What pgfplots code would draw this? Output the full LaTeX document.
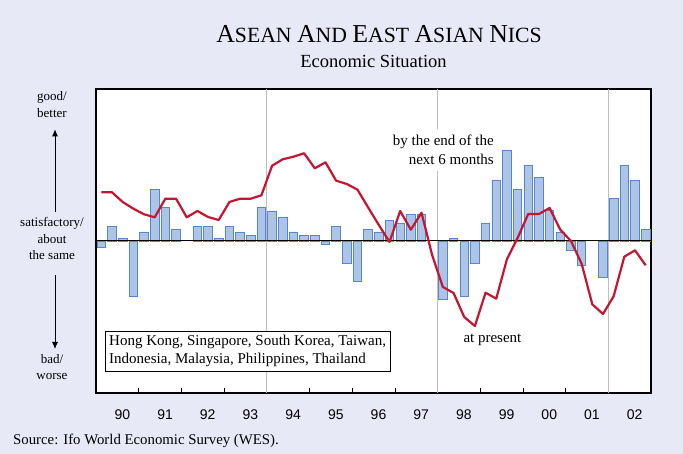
\documentclass[border=0pt]{standalone}
\usepackage{pgfplots}
\pgfplotsset{compat=1.18}
\usetikzlibrary{arrows.meta}
\usepackage{fontspec}
\setmainfont{Liberation Serif}
\newfontfamily\sansfont{Liberation Sans}
\definecolor{bgc}{RGB}{231,233,246}
\definecolor{barfill}{RGB}{174,196,230}
\definecolor{baredge}{RGB}{84,135,205}
\definecolor{redl}{RGB}{196,22,48}
\definecolor{gridg}{RGB}{190,190,190}
\newcommand{\fsc}[2]{{\fontsize{25.8}{26}\selectfont #1}#2}
\begin{document}
\begin{tikzpicture}
\fill[bgc] (-96pt,-61pt) rectangle (587pt,393pt);
\begin{axis}[
  at={(0pt,0pt)}, anchor=south west,
  scale only axis, width=555pt, height=304pt,
  xmin=0, xmax=52, ymin=-152, ymax=152,
  axis background/.style={fill=white},
  axis line style={line width=1.2pt},
  ytick=\empty,
  xtick={2,6,...,50},
  xticklabels={90,91,92,93,94,95,96,97,98,99,00,01,02},
  major tick length=0pt,
  minor xtick={4,8,...,48},
  minor tick length=4.5pt,
  tick align=inside, xtick pos=bottom,
  minor tick style={line width=0.6pt, black},
  xticklabel style={font=\sansfont\fontsize{14}{15}\selectfont, anchor=base, yshift=-26.7pt, xshift=5pt, inner sep=0pt},
  clip=false,
]
\draw[gridg, line width=0.8pt] (axis cs:16,-152) -- (axis cs:16,152);
\draw[gridg, line width=0.8pt] (axis cs:32,-152) -- (axis cs:32,152);
\draw[gridg, line width=0.8pt] (axis cs:48,-152) -- (axis cs:48,152);
\addplot[ybar, bar width=0.8, bar shift=0pt, fill=barfill, draw=baredge, line width=0.8pt] coordinates {
(0.5,-6.7) (1.5,14.7) (2.5,2.7) (3.5,-55.3) (4.5,9) (5.5,51.3) (6.5,33.3) (7.5,11.7)
(9.5,14.7) (10.5,14.7) (11.5,2.7) (12.5,14.7) (13.5,9) (14.5,5.7) (15.5,33.3)
(16.5,30) (17.5,24) (18.5,9) (19.5,5.7) (20.5,5.7) (21.5,-3.7) (22.5,14.7) (23.5,-22)
(24.5,-40.3) (25.5,11.7) (26.5,9) (27.5,20.7) (28.5,18) (29.5,27) (30.5,27)
(32.5,-58) (33.5,2.7) (34.5,-55.3) (35.5,-22) (36.5,18) (37.5,60.5) (38.5,90.7) (39.5,51.3)
(40.5,75.5) (41.5,63.3) (42.5,30.7) (43.5,9) (44.5,-9.3) (45.5,-24.7) (47.5,-36.7)
(48.5,42.3) (49.5,75.3) (50.5,60.3) (51.5,11.7)
};
\draw[black, line width=1pt] (axis cs:0,0) -- (axis cs:52,0);
\addplot[redl, line width=2.2pt, mark=none, line join=round] coordinates {
(0.5,48.7) (1.5,48.7) (2.5,39) (3.5,32.3) (4.5,26.7) (5.5,23.7) (6.5,42.3) (7.5,42.3)
(8.5,23.7) (9.5,30) (10.5,24) (11.5,21) (12.5,39) (13.5,42.3) (14.5,42.3) (15.5,45.7)
(16.5,75.3) (17.5,81.7) (18.5,84.3) (19.5,87.7) (20.5,72.7) (21.5,78.7) (22.5,60.3) (23.5,57)
(24.5,51.3) (25.5,33.5) (26.5,16) (27.5,-1) (28.5,30) (29.5,11.3) (30.5,28.3) (31.5,-14.3)
(32.5,-46) (33.5,-52) (34.5,-76) (35.5,-85) (36.5,-51.7) (37.5,-57.7) (38.5,-18.3) (39.5,3)
(40.5,27) (41.5,27) (42.5,33) (43.5,11.3) (44.5,0) (45.5,-22.7) (46.5,-63.3) (47.5,-73)
(48.5,-55.3) (49.5,-15.7) (50.5,-9.3) (51.5,-24.3)
};
\end{axis}
% title
\node[anchor=base, inner sep=0pt, font=\fontsize{21.7}{24}\selectfont] at (283pt,350.7pt) {\fsc{A}{SEAN} \fsc{A}{ND} \fsc{E}{AST} \fsc{A}{SIAN} \fsc{N}{ICS}};
\node[anchor=base, inner sep=0pt] at (277.5pt,325.3pt) {\fontsize{18.5}{20}\selectfont Economic Situation};
% left labels
\begin{scope}[every node/.style={anchor=base, inner sep=0pt, font=\fontsize{13}{14}\selectfont}]
\node at (-44pt,292pt) {good/};
\node at (-44pt,275.7pt) {better};
\node at (-44pt,166.3pt) {satisfactory/};
\node at (-44pt,149.7pt) {about};
\node at (-44pt,133pt) {the same};
\node at (-44pt,29.7pt) {bad/};
\node at (-44pt,13pt) {worse};
\end{scope}
\draw[-{Latex[length=7pt,width=6pt]}, line width=0.9pt] (-41pt,181.3pt) -- (-41pt,263.7pt);
\draw[-{Latex[length=7pt,width=6pt]}, line width=0.9pt] (-41pt,118pt) -- (-41pt,44pt);
% legend box
\draw[line width=0.8pt, fill=white] (9pt,22pt) rectangle (294pt,62pt);
\begin{scope}[every node/.style={anchor=base west, inner sep=0pt, font=\fontsize{15}{17}\selectfont}]
\node at (13pt,47pt) {Hong Kong, Singapore, South Korea, Taiwan,};
\node at (13pt,29.3pt) {Indonesia, Malaysia, Philippines, Thailand};
\node at (367.3pt,50.3pt) {at present};
\end{scope}
\fill[white] (338pt,222pt) rectangle (400pt,264pt);
\begin{scope}[every node/.style={anchor=base east, inner sep=0pt, font=\fontsize{15}{17}\selectfont}]
\node at (398pt,247pt) {by the end of the};
\node at (398pt,228pt) {next 6 months};
\end{scope}
\node[anchor=base west, inner sep=0pt, font=\fontsize{14.8}{16}\selectfont] at (-83pt,-52pt) {Source: Ifo World Economic Survey (WES).};
\pgfresetboundingbox
\path[use as bounding box] (-96pt,-61pt) rectangle (587pt,393pt);
\end{tikzpicture}
\end{document}
